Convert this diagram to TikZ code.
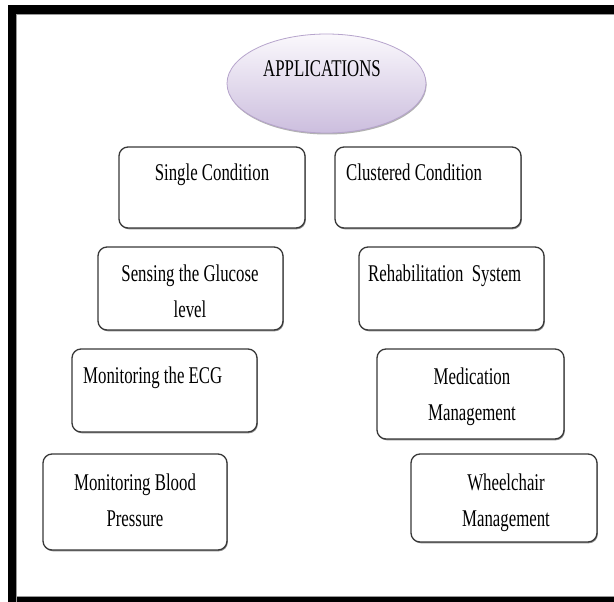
\documentclass[tikz,border=0pt]{standalone}
\usepackage{fontspec}
\newfontfamily\condfont[FakeStretch=0.70]{Liberation Serif}
\usetikzlibrary{shapes.geometric,shadows}
\definecolor{elltop}{RGB}{250,248,252}
\definecolor{ellbot}{RGB}{204,190,222}
\definecolor{elldraw}{RGB}{182,164,204}
\begin{document}
\begin{tikzpicture}[x=1pt,y=-1pt,
  box/.style={draw=black!78, line width=1.3pt, rounded corners=9pt, fill=white, inner sep=0pt,
    drop shadow={shadow xshift=0.8pt, shadow yshift=-1.3pt, opacity=0.45, fill=black}},
  lbl/.style={font=\condfont\fontsize{24}{36}\selectfont, inner sep=0pt, align=center, text=black},
  head/.style={ellipse, draw=elldraw, line width=0.8pt, top color=elltop, bottom color=ellbot, inner sep=0pt,
    drop shadow={shadow xshift=0.6pt, shadow yshift=-1.5pt, opacity=0.3, fill=black}},
  frame/.style={fill=black}
]
\useasboundingbox (0,0) rectangle (614,602);
\fill[white] (0,0) rectangle (614,602);
% frame
\fill[frame] (8,5) rectangle (614,14);
\fill[frame] (8,5) rectangle (16,602);
\fill[frame] (8,597) rectangle (614,602);
\draw[black!40, line width=0.8pt] (16.4,602) -- (16.4,14.4) -- (614,14.4);
\draw[black!40, line width=0.8pt] (16.4,596.6) -- (614,596.6);

% ellipse
\node[head, minimum width=199pt, minimum height=99pt] (app) at (326.5,83.5) {};
\node[lbl, anchor=base] (appt) at (322,77) {APPLICATIONS};

% boxes
\node[box, minimum width=186pt, minimum height=81pt] (single) at (212,187.5) {};
\node[box, minimum width=186pt, minimum height=81pt] (clust) at (428,187.5) {};
\node[box, minimum width=185pt, minimum height=83pt] (gluc) at (190.5,288.5) {};
\node[box, minimum width=185pt, minimum height=83pt] (rehab) at (451.5,288.5) {};
\node[box, minimum width=185pt, minimum height=83pt] (ecg) at (164.5,390.5) {};
\node[box, minimum width=187pt, minimum height=90pt] (med) at (470.5,394) {};
\node[box, minimum width=184pt, minimum height=96pt] (bp) at (135,502) {};
\node[box, minimum width=186pt, minimum height=88pt] (wheel) at (504,498) {};

% texts (multi-line nodes: base = baseline of last line)
\node[lbl, anchor=base] (singlet) at (212,180) {Single Condition};
\node[lbl, anchor=base west] (clustt) at (346,180) {Clustered Condition};
\node[lbl, anchor=base] (glucl) at (190,317) {Sensing the Glucose\\level};
\node[lbl, anchor=base west] (rehabt) at (368,281) {Rehabilitation\ \ System};
\node[lbl, anchor=base west] (ecgt) at (83,383) {Monitoring the ECG};
\node[lbl, anchor=base] (medt) at (472,420) {Medication\\Management};
\node[lbl, anchor=base] (bpt) at (135,526) {Monitoring Blood\\Pressure};
\node[lbl, anchor=base] (wheelt) at (506,526) {Wheelchair\\Management};
\end{tikzpicture}
\end{document}
